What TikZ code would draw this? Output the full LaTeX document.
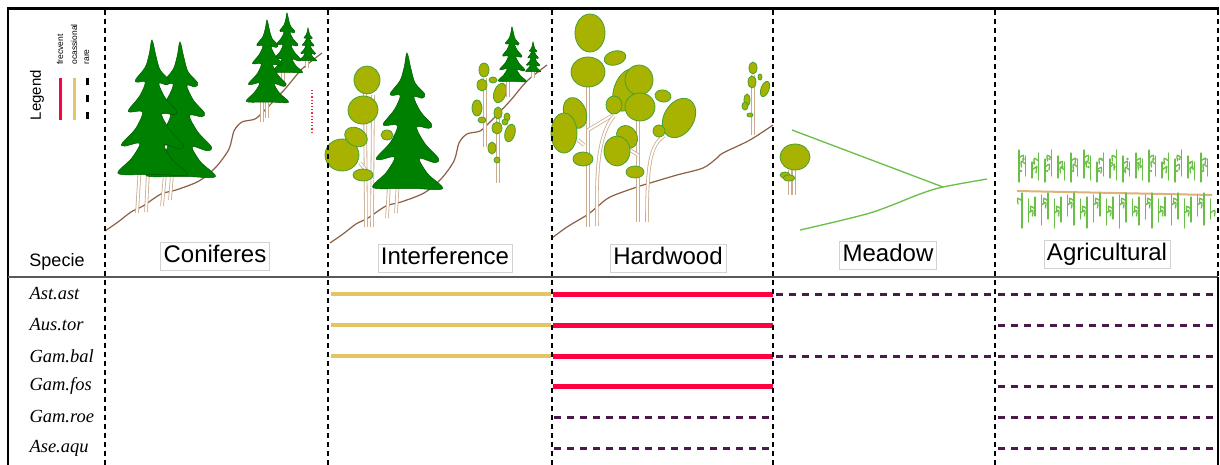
\documentclass[tikz,border=0pt]{standalone}
\usepackage{fontspec}
\setmainfont{Liberation Sans}
\newfontfamily\latinfont{Liberation Serif}

\definecolor{spruce}{RGB}{0,128,0}
\definecolor{leafgreen}{RGB}{168,178,0}
\definecolor{leafedge}{RGB}{70,160,50}
\definecolor{bark}{RGB}{205,172,142}
\definecolor{soil}{RGB}{140,95,70}
\definecolor{grass}{RGB}{105,190,70}
\definecolor{stubble}{RGB}{222,178,120}
\definecolor{freq}{RGB}{255,0,64}
\definecolor{occas}{RGB}{228,196,100}
\definecolor{rarecol}{RGB}{75,25,75}

\newcommand{\leaf}[5]{\draw[leaf,rotate around={#5:(#1,#2)}] (#1,#2) ellipse (#3 and #4);}

\tikzset{
  conifer/.pic={
    \filldraw[fill=spruce,draw=spruce!70!black,line width=0.5pt]
      plot[smooth cycle,tension=0.55] coordinates {(0,0) (0.03,0.12) (0.06,0.22)
        (0.13,0.30) (0.11,0.33) (0.05,0.32) (0.10,0.43) (0.18,0.52) (0.16,0.55)
        (0.07,0.54) (0.13,0.66) (0.23,0.77) (0.20,0.80) (0.09,0.77) (0.15,0.88)
        (0.26,0.99) (0.07,0.99) (-0.07,0.99) (-0.25,0.98) (-0.15,0.87) (-0.09,0.76)
        (-0.20,0.78) (-0.22,0.76) (-0.12,0.65) (-0.07,0.53) (-0.16,0.53) (-0.17,0.51)
        (-0.09,0.41) (-0.05,0.31) (-0.11,0.31) (-0.12,0.29) (-0.05,0.20) (-0.02,0.10)};
  },
  hillside/.pic={
    \draw[soil,line width=1.2pt] plot[smooth] coordinates {(0,0) (13,-9) (26,-19) (38,-25)
      (56,-37) (71,-41) (94,-50) (111,-64) (124,-82) (129,-100) (137,-109) (150,-112)
      (160,-121) (180,-142) (197,-162) (217,-178)};
  }
}

\begin{document}
\begin{tikzpicture}[x=1pt,y=-1pt,
  col/.style={line width=1.6pt,dash pattern=on 5pt off 4pt},
  frequent/.style={freq,line width=5pt},
  occasional/.style={occas,line width=4pt},
  rareline/.style={rarecol,line width=3pt,dash pattern=on 7pt off 6pt},
  habitat/.style={draw=gray!35,fill=white,font=\fontsize{24}{24}\selectfont,
    text height=17pt,text depth=5pt,inner sep=3pt},
  species/.style={anchor=west,font=\latinfont\itshape\fontsize{18.5}{19}\selectfont},
  trunk/.style={draw=bark,double=white,double distance=2pt,line width=0.8pt},
  leaf/.style={fill=leafgreen,draw=leafedge,line width=0.8pt},
  crop/.style={grass,line width=1.3pt,line cap=round}]
\fill[white] (0,0) rectangle (1220,465);
\useasboundingbox (0,0) rectangle (1220,465);

% legend
\node[rotate=90,font=\fontsize{15}{15}\selectfont] (legend) at (37,95) {Legend};
\node[rotate=90,anchor=west,font=\fontsize{8.5}{9}\selectfont] (lfreq) at (60,68) {frecvent};
\node[rotate=90,anchor=west,font=\fontsize{8.5}{9}\selectfont] (locc) at (74,68) {ocassional};
\node[rotate=90,anchor=west,font=\fontsize{8.5}{9}\selectfont] (lrare) at (87,68) {rare};
\draw[freq,line width=3pt] (60,78) -- (60,120);
\draw[occas,line width=3pt] (74,78) -- (74,120);
\draw[line width=3pt,dash pattern=on 7pt off 10pt] (87,78) -- (87,120);
\node[font=\fontsize{18}{18}\selectfont] (specie) at (57,262) {Specie};

% coniferous forest
\pic at (105,231) {hillside};
\draw[trunk] (140,165) -- (137,213);
\draw[trunk] (148,172) -- (146,212);
\draw[trunk] (165,174) -- (162,206);
\draw[trunk] (172,174) -- (170,200);
\pic[scale=136] at (180,42) {conifer};
\pic[scale=136] at (152,40) {conifer};
\draw[trunk] (307,58) -- (307,68);
\draw[trunk] (283,70) -- (283,84);
\draw[trunk] (262,100) -- (262,122);
\draw[trunk] (267,100) -- (267,118);
\pic[scale=33] at (308,28) {conifer};
\pic[scale=60] at (287,13) {conifer};
\pic[scale=83] at (267,20) {conifer};
\draw[freq!60!brown,line width=1.2pt,dotted] (312,90) -- (312,132);

% mixed stand
\pic at (330,243) {hillside};
\draw[trunk] (365,90) -- (366,227);
\draw[trunk] (373,95) -- (372,227);
\draw[trunk] (360,163) -- (366,170);
\leaf{367}{80}{13}{14}{0}
\leaf{363}{110}{15}{14}{10}
\leaf{342}{155}{17}{16}{0}
\leaf{356}{137}{12}{9}{-30}
\leaf{363}{175}{10}{6}{0}
\leaf{387}{135}{6}{5}{0}
\leaf{413}{117}{8}{9}{0}
\draw[trunk] (389,185) -- (387,218);
\draw[trunk] (398,180) -- (396,213);
\pic[scale=137] at (407,53) {conifer};
\draw[trunk] (485,78) -- (485,147);
\draw[trunk] (498,108) -- (498,183);
\leaf{484}{70}{5}{7}{0}
\leaf{482}{85}{5}{6}{0}
\leaf{477}{108}{5}{8}{0}
\leaf{482}{120}{4}{3}{0}
\leaf{493}{80}{4}{3}{0}
\leaf{500}{93}{6}{10}{-20}
\leaf{498}{113}{4}{6}{0}
\leaf{507}{117}{3}{4}{0}
\leaf{497}{128}{5}{6}{0}
\leaf{510}{133}{5}{9}{-15}
\leaf{505}{122}{3}{3}{0}
\leaf{492}{148}{4}{6}{0}
\leaf{497}{160}{3}{3}{0}
\draw[trunk] (508,80) -- (508,97);
\draw[trunk] (533,70) -- (533,78);
\pic[scale=30] at (533,42) {conifer};
\pic[scale=55] at (512,27) {conifer};

% broadleaved forest
\draw[soil,line width=1.2pt] plot[smooth] coordinates {(552,238) (567,227) (587,215)
  (597,207) (610,197) (637,187) (650,183) (677,175) (703,168) (717,158) (723,153)
  (750,140) (773,125)};
\draw[trunk] (588,227) -- (588,85);
\draw[trunk] (588,130) -- (613,115);
\draw[trunk] (584,145) -- (578,140);
\draw[trunk] (597,226) .. controls (596,170) and (598,135) .. (614,116);
\draw[trunk] (638,222) -- (638,100);
\draw[trunk] (638,155) -- (630,150);
\draw[trunk] (647,222) .. controls (647,165) and (650,145) .. (664,136);
\leaf{590}{33}{15}{19}{0}
\leaf{588}{72}{17}{15}{0}
\leaf{615}{58}{11}{7}{15}
\leaf{575}{113}{11}{16}{20}
\leaf{564}{133}{13}{20}{0}
\leaf{583}{159}{10}{7}{0}
\leaf{627}{90}{13}{22}{-20}
\leaf{639}{80}{14}{15}{0}
\leaf{640}{107}{15}{14}{0}
\leaf{614}{105}{8}{9}{0}
\leaf{663}{96}{8}{6}{-10}
\leaf{679}{118}{15}{21}{-30}
\leaf{659}{131}{6}{6}{0}
\leaf{627}{137}{10}{12}{30}
\leaf{617}{151}{13}{15}{0}
\leaf{635}{172}{9}{6}{0}
\draw[trunk] (753,75) -- (753,135);
\leaf{753}{68}{4}{6}{0}
\leaf{752}{82}{4}{6}{0}
\leaf{747}{100}{3}{6}{0}
\leaf{745}{106}{3}{4}{0}
\leaf{760}{77}{2}{3}{0}
\leaf{765}{89}{4}{8}{-20}
\leaf{750}{115}{3}{2}{0}

% meadow
\draw[trunk] (790,170) -- (790,195);
\draw[trunk] (794,170) -- (794,195);
\leaf{795}{157}{15}{13}{0}
\leaf{785}{175}{5}{3}{0}
\leaf{789}{178}{6}{3}{0}
\draw[grass,line width=1.3pt] (792,130) -- (943,187);
\draw[grass,line width=1.3pt] plot[smooth] coordinates {(800,230) (870,213) (920,194)
  (943,187) (987,179)};

% crop rows
\draw[stubble,line width=2pt] (1017,191) -- (1212,195);
\foreach \i in {0,...,29}{
  \pgfmathsetmacro{\px}{1019+6.5*\i}
  \pgfmathsetmacro{\dt}{3*mod(7*\i,5)}
  \pgfmathsetmacro{\db}{4*mod(3*\i,4)}
  \pgfmathsetmacro{\sd}{ifthenelse(mod(\i,2)==0,1,-1)}
  \draw[crop] (\px,150+\dt) -- (\px,182-\db/2);
  \draw[crop] (\px,158+\dt) .. controls (\px+5*\sd,154+\dt) .. (\px+4*\sd,161+\dt);
  \draw[crop] (\px+3,193+\db/2) -- (\px+3,228-\dt);
  \draw[crop] (\px+3,201+\db) .. controls (\px+3-5*\sd,197+\db) .. (\px+3-4*\sd,204+\db);
  \fill[grass] (\px+2*\sd,171-\db) circle (1.3pt);
}

% habitat labels
\node[habitat] (conif) at (215,256) {Coniferes};
\node[habitat] (interf) at (445,258) {Interference};
\node[habitat] (hardw) at (668,258) {Hardwood};
\node[habitat] (meadow) at (888,255) {Meadow};
\node[habitat] (agri) at (1107,254) {Agricultural};

% species rows
\foreach \y/\sp in {294/Ast.ast,325/Aus.tor,356/Gam.bal,386/Gam.fos,417/Gam.roe,448/Ase.aqu}
  \node[species] (sp\y) at (26,\y) {\sp};
\foreach \y in {294,325,356}
  \draw[occasional] (331,\y) -- (551,\y);
\foreach \y in {294,325,356,386}
  \draw[frequent] (553,\y) -- (773,\y);
\foreach \y in {417,448}
  \draw[rareline] (554,\y) -- (773,\y);
\foreach \y in {294,356}
  \draw[rareline] (776,\y) -- (995,\y);
\foreach \y in {294,325,356,386,417,448}
  \draw[rareline] (998,\y) -- (1217,\y);

% frame and column separators
\draw[line width=3pt] (7,9) -- (1219,9);
\draw[line width=2pt] (8,9) -- (8,465);
\draw[black!65,line width=2.5pt] (8,277) -- (1218,277);
\foreach \x in {105,328,552,773,995}
  \draw[col] (\x,10) -- (\x,465);
\draw[col] (1218,10) -- (1218,277);
\draw[line width=1.2pt] (1218,277) -- (1218,465);
\end{tikzpicture}
\end{document}
